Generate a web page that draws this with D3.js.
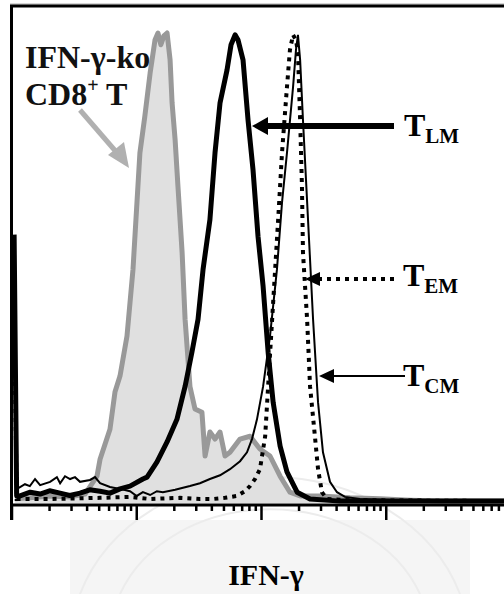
<!DOCTYPE html>
<html>
<head>
<meta charset="utf-8">
<script src="https://cdn.jsdelivr.net/npm/d3@7"></script>
<style>
    body { margin: 0; background: #fff; }
    text { font-family: "Liberation Serif", "Times New Roman", serif; font-weight: bold; }
</style>
</head>
<body>
<svg id="chart" width="504" height="594"></svg>
<script>
// intensity (log axis), count in % of max
const koCurve = [[1.06,0.9],[1.39,1.1],[2.02,1.5],[2.92,1.3],[3.85,1.9],[4.80,5.7],[5.08,9.3],[6.10,15.7],[6.69,23.6],[7.34,27.0],[8.35,35.5],[9.33,49.7],[10.6,74.5],[11.6,82.2],[12.8,91.5],[14.0,98.5],[14.8,100],[15.6,97.5],[16.5,99.4],[17.5,100],[18.5,94.3],[19.2,85.1],[20.3,77.3],[21.4,67.3],[23.1,53.3],[24.4,39.1],[26.7,24.8],[29.3,20.0],[33.3,19.3],[35.3,10.0],[38.6,15.1],[42.4,13.6],[46.5,15.1],[51.0,10.0],[55.9,10.8],[67.3,13.6],[80.9,14.2],[97.2,11.5],[117,10.0],[141,5.7],[169,2.3],[204,1.5],[294,1.5],[512,1.1],[891,0.9],[1550,0.6],[2700,0.4],[10000,0.4]];

const tlmCurve = [[1.04,57.1],[1.09,1.5],[1.16,1.5],[1.4,2.3],[1.68,1.9],[2.0,2.6],[2.43,2.1],[2.9,1.6],[3.51,2.1],[4.2,2.8],[5.08,2.5],[6.1,2.1],[7.34,3.0],[8.83,3.6],[11.2,5.1],[12.1,5.5],[14.5,8.7],[17.5,13.0],[21.0,17.8],[24.4,24.8],[27.7,32.1],[31.0,39.1],[34.0,49.7],[38.6,60.3],[42.4,74.5],[46.5,85.1],[52.9,92.1],[57.0,97.5],[61.4,99.6],[64.9,98.5],[71.1,94.3],[78.0,81.5],[85.5,70.9],[93.8,56.7],[103,46.1],[113,32.1],[124,21.4],[141,12.1],[160,6.6],[193,2.3],[245,0.85],[426,0.4],[891,0.4],[10000,0.4]];

const temCurve = [[1.04,43],[1.09,0.85],[2.02,0.85],[5.08,1.1],[8.83,1.3],[12.8,0.85],[22.2,1.1],[32.1,0.85],[40.9,0.85],[51.0,1.1],[63.6,1.5],[73.8,2.5],[80.9,3.6],[88.7,5.1],[97.2,7.2],[107,14.2],[113,24.8],[124,42.7],[136,60.3],[146,74.5],[160,88.5],[169,96.4],[179,99.6],[189,98.5],[196,95.8],[204,81.5],[211,67.3],[215,53.3],[232,39.1],[245,24.8],[268,14.2],[284,7.2],[305,2.3],[335,0.85],[512,0.6],[10000,0.4]];

const tcmCurve = [[1.09,3.0],[1.16,3.4],[1.27,4.0],[1.39,3.6],[1.53,5.1],[1.68,3.8],[2.02,4.5],[2.29,5.5],[2.43,4.2],[2.66,5.7],[2.92,5.1],[3.20,5.5],[3.51,4.5],[4.22,4.9],[4.63,5.5],[5.08,4.2],[6.10,3.4],[7.34,3.0],[8.83,2.5],[10.0,1.5],[11.2,2.3],[12.8,1.7],[14.5,2.5],[16.2,2.3],[20.3,2.8],[26.7,3.6],[32.1,4.2],[38.6,5.1],[46.5,5.9],[55.9,7.2],[67.3,8.9],[76.5,10.8],[83.9,13.6],[92.0,17.8],[103,24.8],[117,35.5],[133,49.7],[146,63.9],[160,74.5],[179,88.5],[189,96.4],[196,99.6],[204,94.3],[215,81.5],[236,60.3],[259,39.1],[284,21.4],[311,10.8],[354,4.5],[403,2.3],[467,1.3],[616,0.85],[1290,0.6],[10000,0.4]];

const xDomain = [1, 10000];
const axisTitle = "IFN-γ";

const svg = d3.select("#chart");
const x = d3.scaleLog().domain(xDomain).range([12, 511]);
const y = d3.scaleLinear().domain([0, 100]).range([503, 33]);

// watermark area under the axis
svg.append("rect").attr("x", 70).attr("y", 520).attr("width", 400).attr("height", 74).attr("fill", "#f5f5f5");
const wm = svg.append("g").attr("fill", "none").attr("stroke", "#ececec").attr("stroke-width", 2);
wm.append("path").attr("d", "M80,594 A200,170 0 0 1 460,594");
wm.append("path").attr("d", "M120,594 A160,130 0 0 1 420,594");

const line = d3.line().x(d => x(d[0])).y(d => y(d[1]));
const area = d3.area().x(d => x(d[0])).y0(y(0)).y1(d => y(d[1]));

svg.append("path").datum(koCurve).attr("d", area).attr("fill", "#e0e0e0");
svg.append("path").datum(koCurve).attr("d", line)
    .attr("fill", "none").attr("stroke", "#999").attr("stroke-width", 5).attr("stroke-linejoin", "round");

svg.append("path").datum(tcmCurve).attr("d", line)
    .attr("fill", "none").attr("stroke", "#000").attr("stroke-width", 2);

svg.append("path").datum(temCurve).attr("d", line)
    .attr("fill", "none").attr("stroke", "#000").attr("stroke-width", 4).attr("stroke-dasharray", "4,5");

svg.append("path").datum(tlmCurve).attr("d", line)
    .attr("fill", "none").attr("stroke", "#000").attr("stroke-width", 5).attr("stroke-linejoin", "round");

// frame
svg.append("line").attr("x1", 10).attr("x2", 504).attr("y1", 4).attr("y2", 4).attr("stroke", "#aaa").attr("stroke-width", 1);
svg.append("line").attr("x1", 10).attr("x2", 504).attr("y1", 6).attr("y2", 6).attr("stroke", "#000").attr("stroke-width", 3);
svg.append("line").attr("x1", 11.5).attr("x2", 11.5).attr("y1", 5).attr("y2", 520).attr("stroke", "#000").attr("stroke-width", 3);

// log axis with minor ticks
const gx = svg.append("g").attr("transform", "translate(0,505)");
gx.append("line").attr("x1", 10).attr("x2", 504).attr("stroke", "#000").attr("stroke-width", 3);
gx.selectAll(".tick").data(x.ticks()).join("line")
    .attr("class", "tick")
    .attr("x1", d => x(d)).attr("x2", d => x(d))
    .attr("y1", 0)
    .attr("y2", d => Math.abs(Math.log10(d) % 1) < 1e-9 ? 15 : 6)
    .attr("stroke", "#000").attr("stroke-width", 2.5);

svg.append("text").attr("x", 266).attr("y", 585).attr("text-anchor", "middle")
    .attr("font-size", 30).text(axisTitle);

// labels
const ko = svg.append("text").attr("font-size", 32).attr("fill", "#111");
ko.append("tspan").attr("x", 25).attr("y", 68).text("IFN-γ-ko");
const cd = svg.append("text").attr("font-size", 32).attr("fill", "#111");
cd.append("tspan").attr("x", 25).attr("y", 105).text("CD8");
cd.append("tspan").attr("font-size", 20).attr("dy", -13).text("+");
cd.append("tspan").attr("dy", 13).text(" T");

svg.append("line").attr("x1", 80).attr("y1", 110).attr("x2", 118).attr("y2", 154)
    .attr("stroke", "#b0b0b0").attr("stroke-width", 5);
svg.append("path").attr("d", "M129,168 L108,155 L124,142 Z").attr("fill", "#b0b0b0");

function subLabel(px, py, sub) {
    const t = svg.append("text").attr("x", px).attr("y", py).attr("font-size", 32);
    t.append("tspan").text("T");
    t.append("tspan").attr("font-size", 21).attr("dy", 7).text(sub);
}

// T_LM
svg.append("line").attr("x1", 265).attr("x2", 394).attr("y1", 126).attr("y2", 126).attr("stroke", "#000").attr("stroke-width", 6);
svg.append("path").attr("d", "M252,126 L268,117 L268,135 Z").attr("fill", "#000");
subLabel(404, 136, "LM");

// T_EM
svg.append("line").attr("x1", 318).attr("x2", 396).attr("y1", 279).attr("y2", 279)
    .attr("stroke", "#000").attr("stroke-width", 4).attr("stroke-dasharray", "4,5");
svg.append("path").attr("d", "M305,279 L320,272 L320,286 Z").attr("fill", "#000");
subLabel(403, 286, "EM");

// T_CM
svg.append("line").attr("x1", 330).attr("x2", 405).attr("y1", 376).attr("y2", 376).attr("stroke", "#000").attr("stroke-width", 2);
svg.append("path").attr("d", "M319,376 L334,369 L334,383 Z").attr("fill", "#000");
subLabel(403, 386, "CM");
</script>
</body>
</html>
